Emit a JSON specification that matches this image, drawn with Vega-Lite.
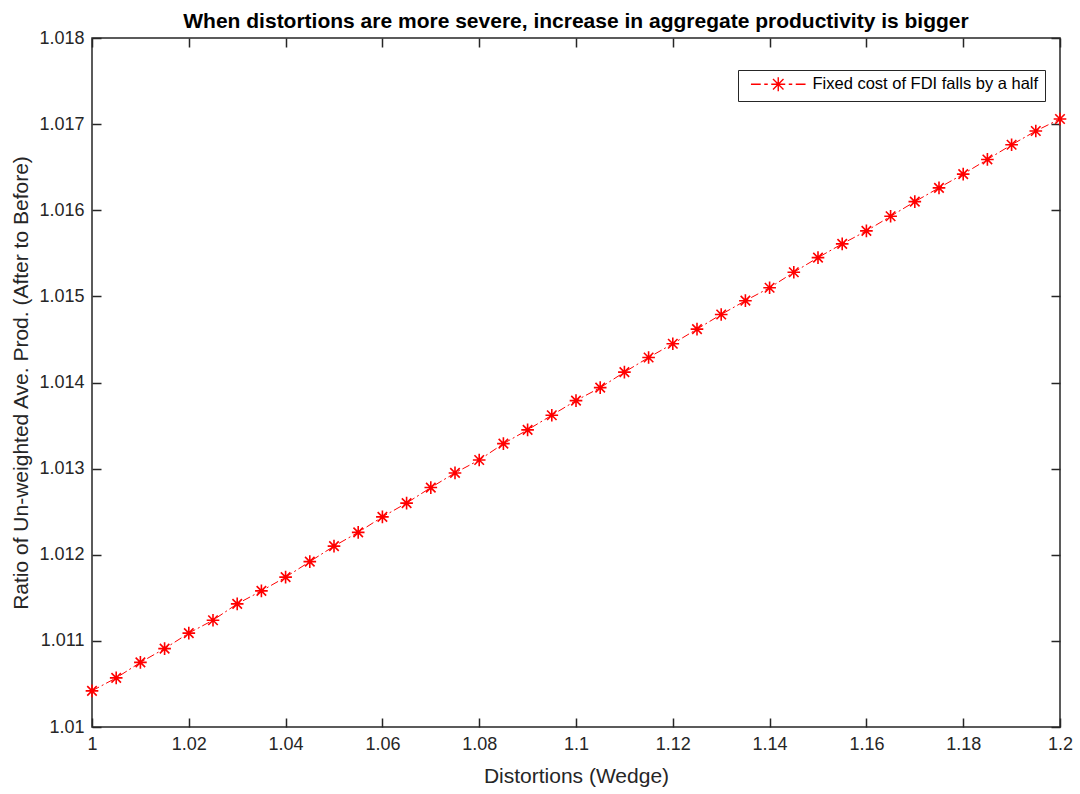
{
  "$schema": "https://vega.github.io/schema/vega-lite/v6.json",
  "autosize": {"type": "none"},
  "padding": {"left": 92, "top": 38, "right": 20, "bottom": 67},
  "width": 968,
  "height": 689,
  "background": "white",
  "title": {"text": "When distortions are more severe, increase in aggregate productivity is bigger", "font": "Liberation Sans", "fontSize": 21, "fontWeight": "bold", "color": "#000000", "anchor": "middle", "offset": -3},
  "config": {
    "view": {"stroke": "#262626", "strokeWidth": 1.5},
    "font": "Liberation Sans",
    "axis": {"labelFont": "Liberation Sans", "labelFontSize": 18, "labelColor": "#262626", "labelFlush": false, "titleFont": "Liberation Sans", "titleFontSize": 21, "titleFontWeight": "normal", "titleColor": "#262626", "domain": false, "grid": false, "tickColor": "#262626", "tickWidth": 1.5, "tickSize": -9}
  },
  "data": {"values": [
    {"x": 1.000, "y": 1.01042, "s": "Fixed cost of FDI falls by a half"},
    {"x": 1.005, "y": 1.01057, "s": "Fixed cost of FDI falls by a half"},
    {"x": 1.010, "y": 1.01075, "s": "Fixed cost of FDI falls by a half"},
    {"x": 1.015, "y": 1.01091, "s": "Fixed cost of FDI falls by a half"},
    {"x": 1.020, "y": 1.01109, "s": "Fixed cost of FDI falls by a half"},
    {"x": 1.025, "y": 1.01124, "s": "Fixed cost of FDI falls by a half"},
    {"x": 1.030, "y": 1.01143, "s": "Fixed cost of FDI falls by a half"},
    {"x": 1.035, "y": 1.01158, "s": "Fixed cost of FDI falls by a half"},
    {"x": 1.040, "y": 1.01174, "s": "Fixed cost of FDI falls by a half"},
    {"x": 1.045, "y": 1.01192, "s": "Fixed cost of FDI falls by a half"},
    {"x": 1.050, "y": 1.01210, "s": "Fixed cost of FDI falls by a half"},
    {"x": 1.055, "y": 1.01226, "s": "Fixed cost of FDI falls by a half"},
    {"x": 1.060, "y": 1.01244, "s": "Fixed cost of FDI falls by a half"},
    {"x": 1.065, "y": 1.01260, "s": "Fixed cost of FDI falls by a half"},
    {"x": 1.070, "y": 1.01278, "s": "Fixed cost of FDI falls by a half"},
    {"x": 1.075, "y": 1.01295, "s": "Fixed cost of FDI falls by a half"},
    {"x": 1.080, "y": 1.01310, "s": "Fixed cost of FDI falls by a half"},
    {"x": 1.085, "y": 1.01329, "s": "Fixed cost of FDI falls by a half"},
    {"x": 1.090, "y": 1.01345, "s": "Fixed cost of FDI falls by a half"},
    {"x": 1.095, "y": 1.01362, "s": "Fixed cost of FDI falls by a half"},
    {"x": 1.100, "y": 1.01379, "s": "Fixed cost of FDI falls by a half"},
    {"x": 1.105, "y": 1.01394, "s": "Fixed cost of FDI falls by a half"},
    {"x": 1.110, "y": 1.01412, "s": "Fixed cost of FDI falls by a half"},
    {"x": 1.115, "y": 1.01429, "s": "Fixed cost of FDI falls by a half"},
    {"x": 1.120, "y": 1.01445, "s": "Fixed cost of FDI falls by a half"},
    {"x": 1.125, "y": 1.01462, "s": "Fixed cost of FDI falls by a half"},
    {"x": 1.130, "y": 1.01479, "s": "Fixed cost of FDI falls by a half"},
    {"x": 1.135, "y": 1.01495, "s": "Fixed cost of FDI falls by a half"},
    {"x": 1.140, "y": 1.01510, "s": "Fixed cost of FDI falls by a half"},
    {"x": 1.145, "y": 1.01528, "s": "Fixed cost of FDI falls by a half"},
    {"x": 1.150, "y": 1.01545, "s": "Fixed cost of FDI falls by a half"},
    {"x": 1.155, "y": 1.01561, "s": "Fixed cost of FDI falls by a half"},
    {"x": 1.160, "y": 1.01576, "s": "Fixed cost of FDI falls by a half"},
    {"x": 1.165, "y": 1.01593, "s": "Fixed cost of FDI falls by a half"},
    {"x": 1.170, "y": 1.01610, "s": "Fixed cost of FDI falls by a half"},
    {"x": 1.175, "y": 1.01626, "s": "Fixed cost of FDI falls by a half"},
    {"x": 1.180, "y": 1.01642, "s": "Fixed cost of FDI falls by a half"},
    {"x": 1.185, "y": 1.01659, "s": "Fixed cost of FDI falls by a half"},
    {"x": 1.190, "y": 1.01676, "s": "Fixed cost of FDI falls by a half"},
    {"x": 1.195, "y": 1.01692, "s": "Fixed cost of FDI falls by a half"},
    {"x": 1.200, "y": 1.01706, "s": "Fixed cost of FDI falls by a half"}
  ]},
  "resolve": {"axis": {"x": "independent", "y": "independent"}},
  "layer": [
    {
      "mark": {"type": "line", "color": "#ff0000", "strokeWidth": 1, "strokeDash": [8, 3, 2, 3], "clip": false},
      "encoding": {
        "x": {"field": "x", "type": "quantitative", "scale": {"domain": [1, 1.2], "nice": false, "zero": false},
          "axis": {"orient": "bottom", "title": "Distortions (Wedge)", "values": [1, 1.02, 1.04, 1.06, 1.08, 1.1, 1.12, 1.14, 1.16, 1.18, 1.2], "format": "~f", "labelPadding": 17, "titlePadding": 12}},
        "y": {"field": "y", "type": "quantitative", "scale": {"domain": [1.01, 1.018], "nice": false, "zero": false},
          "axis": {"orient": "left", "title": "Ratio of Un-weighted Ave. Prod. (After to Before)", "values": [1.01, 1.011, 1.012, 1.013, 1.014, 1.015, 1.016, 1.017, 1.018], "format": "~f", "labelPadding": 17, "titlePadding": 7}}
      }
    },
    {
      "mark": {"type": "point", "shape": "M-1,0L1,0M0,-1L0,1M-0.75,-0.75L0.75,0.75M-0.75,0.75L0.75,-0.75", "filled": false, "size": 160, "strokeWidth": 1.6, "opacity": 1, "clip": false},
      "encoding": {
        "x": {"field": "x", "type": "quantitative",
          "axis": {"orient": "top", "title": null, "labels": false, "values": [1, 1.02, 1.04, 1.06, 1.08, 1.1, 1.12, 1.14, 1.16, 1.18, 1.2]}},
        "y": {"field": "y", "type": "quantitative",
          "axis": {"orient": "right", "title": null, "labels": false, "values": [1.01, 1.011, 1.012, 1.013, 1.014, 1.015, 1.016, 1.017, 1.018]}},
        "color": {"field": "s", "type": "nominal", "scale": {"range": ["#ff0000"]},
          "legend": {"title": null, "orient": "none", "legendX": 646, "legendY": 32, "fillColor": "white", "strokeColor": "#262626", "padding": 6,
            "symbolType": "M-3.9,0L-2.5,0M-2.0,0L-1.5,0M1.5,0L2.0,0M2.5,0L3.9,0M-1,0L1,0M0,-1L0,1M-0.75,-0.75L0.75,0.75M-0.75,0.75L0.75,-0.75",
            "symbolSize": 196, "symbolStrokeWidth": 1.4, "symbolOffset": 26, "labelOffset": 26, "labelFont": "Liberation Sans", "labelFontSize": 16.5, "labelColor": "#000000", "labelLimit": 400}}
      }
    }
  ]
}
